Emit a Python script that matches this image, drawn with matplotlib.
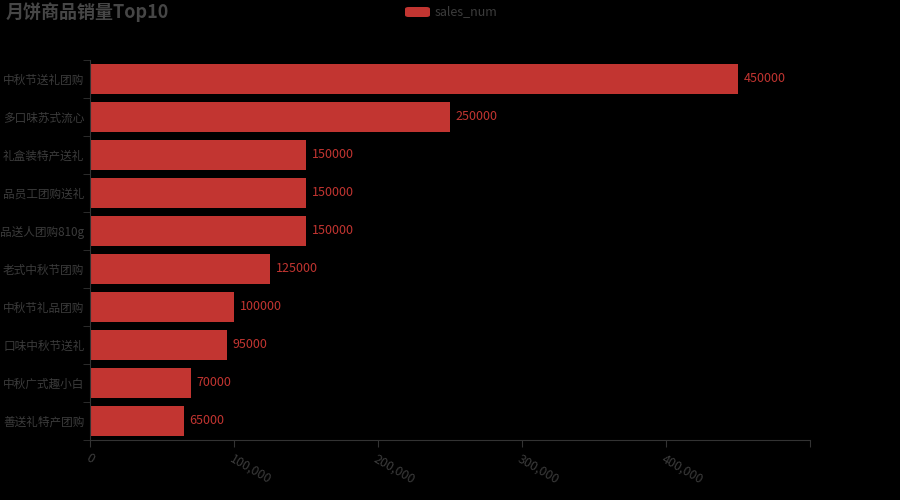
import matplotlib
matplotlib.use("Agg")
import matplotlib.pyplot as plt
from matplotlib.patches import FancyBboxPatch
from matplotlib.ticker import FixedLocator, FuncFormatter

plt.rcParams['font.family'] = ['Noto Sans CJK SC', 'DejaVu Sans']

# data (top to bottom)
names = ["中秋节送礼团购", "多口味苏式流心", "礼盒装特产送礼", "品员工团购送礼",
         "品送人团购810g", "老式中秋节团购", "中秋节礼品团购", "口味中秋节送礼",
         "中秋广式趣小白", "善送礼特产团购"]
sales_num = [450000, 250000, 150000, 150000, 150000, 125000, 100000, 95000, 70000, 65000]
x_ticks = [0, 100000, 200000, 300000, 400000, 500000]

bar_color = "#c23531"
text_color = "#3c3c3c"
axis_color = "#333333"

fig = plt.figure(figsize=(9, 5), dpi=100, facecolor="black")
ax = fig.add_axes([0.1, 0.12, 0.8, 0.76])
ax.set_facecolor("black")

n = len(names)
ypos = list(range(n))[::-1]
ax.barh(ypos, sales_num, height=0.8, color=bar_color)
for y, v in zip(ypos, sales_num):
    ax.text(v + 4000, y, str(v), va="center", ha="left", fontsize=9, color=bar_color)

ax.set_xlim(0, 500000)
ax.set_ylim(-0.5, n - 0.5)

ax.set_yticks(ypos)
ax.set_yticklabels(names, fontsize=8.4, color=text_color)
ax.yaxis.set_minor_locator(FixedLocator([i - 0.5 for i in range(n + 1)]))
ax.tick_params(axis="y", which="major", length=0, pad=4)
ax.tick_params(axis="y", which="minor", length=5, color=axis_color)

ax.xaxis.set_major_locator(FixedLocator(x_ticks))
ax.xaxis.set_major_formatter(FuncFormatter(lambda v, p: "" if v >= 500000 else f"{int(v):,}"))
ax.tick_params(axis="x", length=5, color=axis_color, labelcolor=text_color, labelsize=9)
for lbl in ax.get_xticklabels():
    lbl.set_rotation(-30)
    lbl.set_ha("left")
    lbl.set_va("top")
    lbl.set_rotation_mode("anchor")

for side in ["top", "right"]:
    ax.spines[side].set_visible(False)
ax.spines["left"].set_color(axis_color)
ax.spines["bottom"].set_color(axis_color)

# title
fig.text(0.006, 0.975, "月饼商品销量Top10", fontsize=13, fontweight="bold",
         color="#464646", ha="left", va="center")

# legend
fig.patches.append(FancyBboxPatch((405 / 900, 1 - 17 / 500), 25 / 900, 10 / 500,
                                  boxstyle="round,pad=0,rounding_size=0.004",
                                  transform=fig.transFigure, facecolor=bar_color,
                                  edgecolor="none"))
fig.text(435 / 900, 1 - 12 / 500, "sales_num", fontsize=9, color=text_color,
         ha="left", va="center")

fig.savefig("out.png", dpi=100, facecolor="black")
